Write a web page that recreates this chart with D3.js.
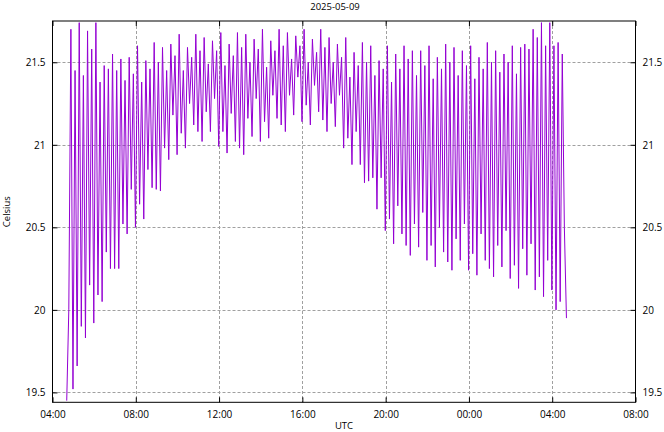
<!DOCTYPE html>
<html>
<head>
<meta charset="utf-8">
<script src="https://cdn.jsdelivr.net/npm/d3@7"></script>
<style>
  html, body { margin: 0; padding: 0; background: #fff; }
  svg { display: block; }
  text { font-family: "Open Sans", "DejaVu Sans", sans-serif; fill: #000; }
</style>
</head>
<body>
<svg id="chart" width="664" height="432"></svg>
<script>
// ---- data ----
const title = "2025-05-09";
const xLabel = "UTC";
const yLabel = "Celsius";
const startTime = "2025-05-09T04:41:00Z";
const stepMinutes = 6;
const xDomain = ["2025-05-09T04:00:00Z", "2025-05-10T08:00:00Z"];
const xTickTimes = ["2025-05-09T04:00:00Z","2025-05-09T08:00:00Z","2025-05-09T12:00:00Z","2025-05-09T16:00:00Z","2025-05-09T20:00:00Z","2025-05-10T00:00:00Z","2025-05-10T04:00:00Z","2025-05-10T08:00:00Z"];
const yTicks = [19.5, 20, 20.5, 21, 21.5];
const yDomain = [19.44, 21.75];
// temperature samples, one every stepMinutes
const temps = [
  19.45, 20.0, 21.7,
  19.52, 21.45, 19.66, 21.74, 19.9, 21.42, 19.83, 21.69, 20.15, 21.58,
  19.92, 21.74, 20.09, 21.38, 20.05, 21.48, 20.35, 21.46, 20.25, 21.55,
  20.25, 21.45, 20.25, 21.52, 20.52, 21.39, 20.46, 21.53, 20.73, 21.43,
  20.5, 21.6, 20.64, 21.38, 20.55, 21.51, 20.85, 21.46, 20.74, 21.62,
  20.73, 21.5, 20.72, 21.59, 20.98, 21.45, 20.91, 21.61, 21.18, 21.54,
  20.94, 21.67, 21.07, 21.45, 20.98, 21.59, 21.25, 21.53, 21.12, 21.67,
  21.08, 21.57, 21.02, 21.65, 21.2, 21.49, 21.08, 21.63, 21.28, 21.57,
  20.99, 21.68, 21.08, 21.48, 20.95, 21.61, 21.19, 21.54, 21.02, 21.68,
  20.98, 21.59, 20.94, 21.67, 21.16, 21.5, 21.05, 21.64, 21.28, 21.58,
  21.02, 21.7, 21.14, 21.47, 21.04, 21.63, 21.3, 21.57, 21.16, 21.7,
  21.12, 21.6, 21.08, 21.68, 21.3, 21.52, 21.18, 21.66, 21.41, 21.6,
  21.14, 21.7, 21.24, 21.5, 21.12, 21.64, 21.36, 21.56, 21.2, 21.7,
  21.15, 21.59, 21.08, 21.65, 21.25, 21.5, 21.11, 21.61, 21.3, 21.53,
  20.98, 21.65, 21.04, 21.41, 20.88, 21.56, 21.08, 21.48, 20.88, 21.62,
  20.77, 21.5, 20.78, 21.6, 20.8, 21.42, 20.61, 21.51, 20.8, 21.46,
  20.48, 21.6, 20.55, 21.38, 20.4, 21.55, 20.63, 21.46, 20.46, 21.6,
  20.39, 21.52, 20.33, 21.57, 20.52, 21.42, 20.38, 21.57, 20.59, 21.48,
  20.3, 21.6, 20.39, 21.4, 20.26, 21.53, 20.5, 21.46, 20.35, 21.61,
  20.29, 21.5, 20.24, 21.59, 20.43, 21.42, 20.3, 21.57, 20.52, 21.48,
  20.24, 21.6, 20.34, 21.4, 20.21, 21.53, 20.46, 21.46, 20.3, 21.62,
  20.25, 21.5, 20.2, 21.57, 20.39, 21.44, 20.26, 21.55, 20.48, 21.5,
  20.19, 21.6, 20.27, 21.43, 20.13, 21.59, 20.37, 21.61, 20.21, 21.58,
  20.4, 21.7, 20.12, 21.65, 20.2, 21.74, 20.08, 21.6, 20.3, 21.74,
  20.12, 21.6, 20.0, 21.62, 20.05,
  21.55, 20.5, 19.95
];

// ---- chart ----
const svg = d3.select("#chart");
const W = 664, H = 432;
const m = { left: 52.5, right: 664 - 635.5, top: 21, bottom: 432 - 402.3 };
const parse = d3.isoParse;
const t0 = parse(startTime);
const data = temps.map((v, i) => ({ t: new Date(t0.getTime() + i * stepMinutes * 60000), v }));

const x = d3.scaleUtc().domain(xDomain.map(parse)).range([m.left, W - m.right]);
const y = d3.scaleLinear().domain(yDomain).range([H - m.bottom, m.top]);
const xTicks = xTickTimes.map(parse);
const fmt = d3.utcFormat("%H:%M");
const FS = 9.5;

svg.append("rect").attr("width", W).attr("height", H).attr("fill", "#fff");

// grid
const grid = svg.append("g").attr("stroke", "#a0a0a0").attr("stroke-width", 1).attr("stroke-dasharray", "3,2");
grid.selectAll("line.gx").data(xTicks.slice(1, -1)).join("line")
  .attr("x1", d => Math.round(x(d)) + 0.5).attr("x2", d => Math.round(x(d)) + 0.5)
  .attr("y1", m.top).attr("y2", H - m.bottom);
grid.selectAll("line.gy").data(yTicks).join("line")
  .attr("y1", d => Math.round(y(d)) + 0.5).attr("y2", d => Math.round(y(d)) + 0.5)
  .attr("x1", m.left).attr("x2", W - m.right);

// data line
const line = d3.line().x(d => x(d.t)).y(d => y(d.v));
svg.append("path").datum(data).attr("d", line)
  .attr("fill", "none").attr("stroke", "#9400d3").attr("stroke-width", 1)
  .attr("stroke-linejoin", "miter");

// axes using d3 axis (inward ticks, mirrored)
const tl = 5;
const ax = svg.append("g").attr("font-size", FS);
ax.append("g").attr("transform", `translate(0,${H - m.bottom})`)
  .call(d3.axisBottom(x).tickValues(xTicks).tickFormat(fmt).tickSizeInner(-tl).tickSizeOuter(0).tickPadding(9));
ax.append("g").attr("transform", `translate(0,${m.top})`)
  .call(d3.axisTop(x).tickValues(xTicks).tickFormat("").tickSizeInner(-tl).tickSizeOuter(0));
ax.append("g").attr("transform", `translate(${m.left},0)`)
  .call(d3.axisLeft(y).tickValues(yTicks).tickFormat(d3.format("")).tickSizeInner(-tl).tickSizeOuter(0).tickPadding(7));
ax.append("g").attr("transform", `translate(${W - m.right},0)`)
  .call(d3.axisRight(y).tickValues(yTicks).tickFormat(d3.format("")).tickSizeInner(-tl).tickSizeOuter(0).tickPadding(7));
ax.selectAll(".domain").remove();
ax.selectAll("text").attr("font-family", "Open Sans, DejaVu Sans, sans-serif").attr("fill", "#000");
ax.selectAll("line").attr("stroke", "#000");

// border
svg.append("rect").attr("x", m.left).attr("y", m.top)
  .attr("width", W - m.left - m.right).attr("height", H - m.top - m.bottom)
  .attr("fill", "none").attr("stroke", "#000").attr("stroke-width", 1);

// labels
svg.append("text").attr("x", 335).attr("y", 10).attr("text-anchor", "middle").attr("font-size", FS).text(title);
svg.append("text").attr("x", (m.left + W - m.right) / 2).attr("y", 428.5).attr("text-anchor", "middle").attr("font-size", FS).text(xLabel);
svg.append("text").attr("transform", `translate(10,${(m.top + H - m.bottom) / 2}) rotate(-90)`)
  .attr("text-anchor", "middle").attr("font-size", FS).text(yLabel);
</script>
</body>
</html>
